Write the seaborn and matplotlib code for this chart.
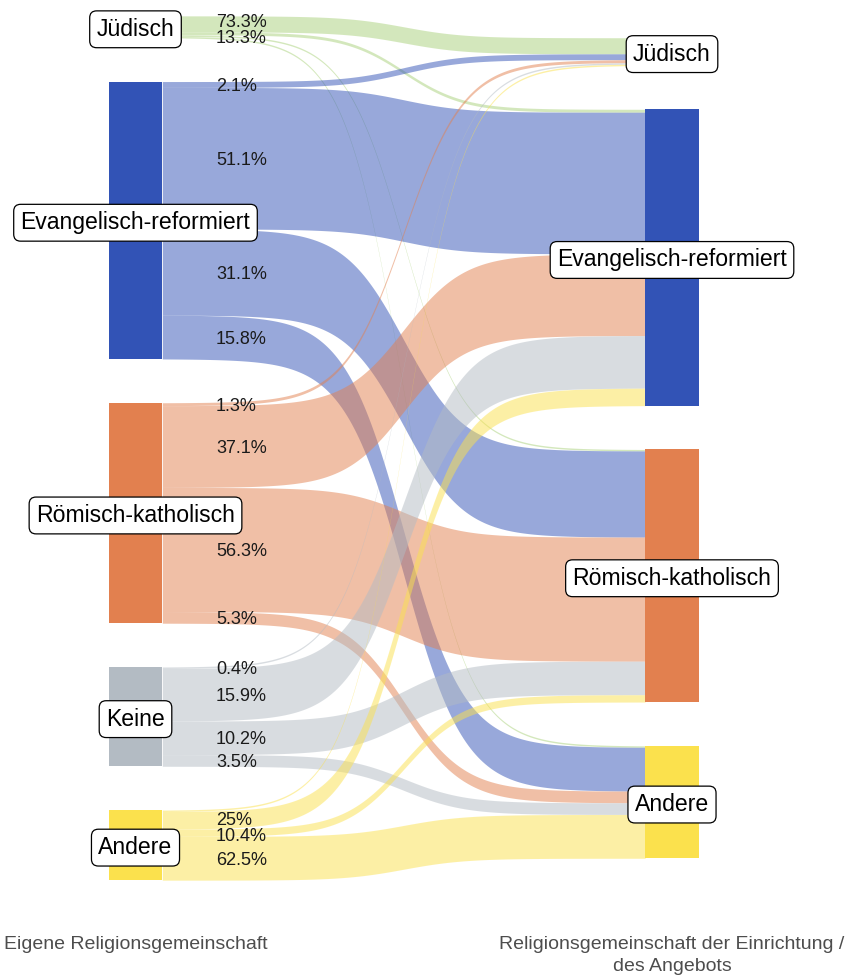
import numpy as np
import pandas as pd
import matplotlib
matplotlib.use("Agg")
import matplotlib.pyplot as plt
import seaborn as sns

# -----------------------------
# DATA
# -----------------------------
sources = ["Jüdisch", "Evangelisch-reformiert", "Römisch-katholisch", "Keine", "Andere"]
targets = ["Jüdisch", "Evangelisch-reformiert", "Römisch-katholisch", "Andere"]

# number of people, one list per own religion, columns = religion of the institution
counts_juedisch = [11, 2, 1, 1]
counts_evang = [4, 97, 59, 30]
counts_kath = [2, 56, 85, 8]
counts_keine = [1, 36, 23, 8]
counts_andere = [1, 12, 5, 30]

# shown percentages ("" = label dropped in the original because of overlap)
labels_juedisch = ["73.3%", "13.3%", "", ""]
labels_evang = ["2.1%", "51.1%", "31.1%", "15.8%"]
labels_kath = ["1.3%", "37.1%", "56.3%", "5.3%"]
labels_keine = ["0.4%", "15.9%", "10.2%", "3.5%"]
labels_andere = ["", "25%", "10.4%", "62.5%"]

axis_labels = ["Eigene Religionsgemeinschaft",
               "Religionsgemeinschaft der Einrichtung /\ndes Angebots"]

node_colors = {
    "Jüdisch": "#A9D17A",
    "Evangelisch-reformiert": "#3253B6",
    "Römisch-katholisch": "#E2804F",
    "Keine": "#B3BBC3",
    "Andere": "#FBE14D",
}

counts = [counts_juedisch, counts_evang, counts_kath, counts_keine, counts_andere]
labels = [labels_juedisch, labels_evang, labels_kath, labels_keine, labels_andere]

rows = []
for s, cs, ls in zip(sources, counts, labels):
    for t, c, l in zip(targets, cs, ls):
        rows.append({"source": s, "target": t, "n": c, "label": l})
df = pd.DataFrame(rows)

# -----------------------------
# LAYOUT
# -----------------------------
GAP = 30
NODE_W = 0.1
X_LEFT, X_RIGHT = 1, 2


def stack(names, sizes):
    total = sum(sizes) + GAP * (len(sizes) - 1)
    cur = total / 2
    pos = {}
    for nm, sz in zip(names, sizes):
        pos[nm] = (cur, cur - sz)
        cur = cur - sz - GAP
    return pos


src_size = df.groupby("source", sort=False)["n"].sum()
tgt_size = df.groupby("target", sort=False)["n"].sum()
left_pos = stack(sources, [src_size[s] for s in sources])
right_pos = stack(targets, [tgt_size[t] for t in targets])

# outgoing offsets (ordered by target), incoming offsets (ordered by source)
out_cur = {s: left_pos[s][0] for s in sources}
in_cur = {t: right_pos[t][0] for t in targets}
df["y0_top"] = 0.0
df["y1_top"] = 0.0
for i, r in df.iterrows():
    df.at[i, "y0_top"] = out_cur[r.source]
    out_cur[r.source] -= r.n
for t in targets:
    for s in sources:
        i = df.index[(df.source == s) & (df.target == t)][0]
        df.at[i, "y1_top"] = in_cur[t]
        in_cur[t] -= df.at[i, "n"]


def sigmoid(x0, x1, y0, y1, smooth=8, n=200):
    z = np.linspace(-smooth, smooth, n)
    s = 1 / (1 + np.exp(-z))
    s = (s - s[0]) / (s[-1] - s[0])
    return np.linspace(x0, x1, n), y0 + (y1 - y0) * s


def repel(ys, min_gap):
    ys = list(ys)
    for _ in range(50):
        moved = False
        for k in range(len(ys) - 1):
            d = ys[k] - ys[k + 1]
            if d < min_gap:
                sh = (min_gap - d) / 2
                ys[k] += sh
                ys[k + 1] -= sh
                moved = True
        if not moved:
            break
    return ys


# -----------------------------
# PLOT
# -----------------------------
sns.set_theme(style="white")
plt.rcParams["font.family"] = ["Liberation Sans", "DejaVu Sans"]

fig = plt.figure(figsize=(8.46, 9.76), dpi=100)
ax = fig.add_axes([0, 48 / 976, 1, 928 / 976])

xa = X_LEFT + NODE_W / 2
xb = X_RIGHT - NODE_W / 2
for _, r in df.iterrows():
    if r.n <= 0:
        continue
    x, top = sigmoid(xa, xb, r.y0_top, r.y1_top)
    _, bot = sigmoid(xa, xb, r.y0_top - r.n, r.y1_top - r.n)
    ax.fill_between(x, bot, top, color=node_colors[r.source], alpha=0.5, lw=0, zorder=1)

for s in sources:
    top, bot = left_pos[s]
    ax.bar(X_LEFT, top - bot, bottom=bot, width=NODE_W, color=node_colors[s], lw=0, zorder=2)
for t in targets:
    top, bot = right_pos[t]
    ax.bar(X_RIGHT, top - bot, bottom=bot, width=NODE_W, color=node_colors[t], lw=0, zorder=2)

# percentage labels
for s in sources:
    sub = df[(df.source == s) & (df.label != "")]
    centers = (sub.y0_top - sub.n / 2).tolist()
    ys = repel(centers, 11)
    for lab, y in zip(sub.label, ys):
        ax.text(X_LEFT + NODE_W / 2 + 0.1, y, lab, ha="left", va="center_baseline",
                fontsize=13, color="#1a1a1a", zorder=3)

box = dict(boxstyle="round,pad=0.3,rounding_size=0.3", fc="white", ec="black", lw=0.9)
for s in sources:
    top, bot = left_pos[s]
    ax.text(X_LEFT, (top + bot) / 2, s, ha="center", va="center_baseline", fontsize=16.6,
            color="black", bbox=box, zorder=5)
for t in targets:
    top, bot = right_pos[t]
    ax.text(X_RIGHT, (top + bot) / 2, t, ha="center", va="center_baseline", fontsize=16.6,
            color="black", bbox=box, zorder=5)

px = 536.5
ax.set_xlim(1 - 135.5 / px, 1 + (846 - 135.5) / px)
ax.set_ylim((448 - 928) / 1.46, 448 / 1.46)
ax.set_xticks([X_LEFT, X_RIGHT])
ax.set_xticklabels(axis_labels, linespacing=1.35)
ax.set_yticks([])
ax.tick_params(axis="x", length=0, pad=6, labelsize=14, labelcolor="#4d4d4d")
sns.despine(ax=ax, left=True, bottom=True)

fig.savefig("out.png", dpi=100)
